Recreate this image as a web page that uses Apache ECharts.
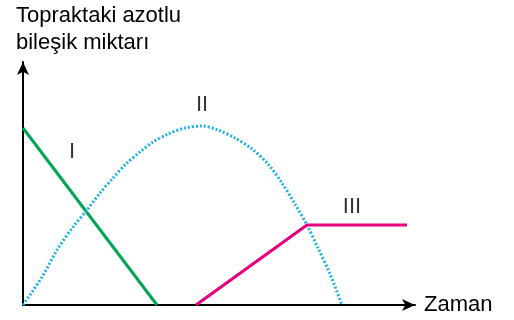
<!DOCTYPE html>
<html>
<head>
<meta charset="utf-8">
<script src="https://cdn.jsdelivr.net/npm/echarts@6/dist/echarts.min.js"></script>
<style>
  html, body { margin: 0; padding: 0; background: #fff; }
  #chart { width: 514px; height: 320px; }
</style>
</head>
<body>
<div id="chart"></div>
<script>
// 数据：x = 时间, y = 氮化合物量
const curveI = [[0, 177], [134, 0]]
const curveII = [
  [0, 0], [19, 28], [34, 55], [50, 78], [64, 95], [77, 112], [90, 127],
  [104, 142], [117, 153], [130, 163], [145, 171], [162, 177], [179, 179],
  [195, 175], [212, 167], [229, 156], [245, 141], [259, 122], [272, 101],
  [284, 80], [295, 57], [307, 31], [319, 0]
]
const curveIII = [[173, 0], [284, 80], [384, 80]]
const curveLabels = [[49, 153, 'I'], [179, 200, 'II'], [329, 98, 'III']]

const yTitle = 'Topraktaki azotlu\nbileşik miktarı'
const xTitle = 'Zaman'

const FONT = 'Liberation Sans, Arial, sans-serif'

const chart = echarts.init(document.getElementById('chart'))

chart.setOption({
  animation: false,
  grid: { left: 23, right: 99, top: 62, bottom: 15 },
  xAxis: {
    type: 'value', min: 0, max: 392,
    name: xTitle, nameLocation: 'end', nameGap: 9,
    nameTextStyle: { color: '#000', fontSize: 22, fontFamily: FONT },
    axisLine: { lineStyle: { color: '#000', width: 2 }, symbol: ['none', 'arrow'], symbolSize: [9, 13] },
    axisTick: { show: false }, axisLabel: { show: false }, splitLine: { show: false }
  },
  yAxis: {
    type: 'value', min: 0, max: 243,
    axisLine: { lineStyle: { color: '#000', width: 2 }, symbol: ['none', 'arrow'], symbolSize: [9, 13] },
    axisTick: { show: false }, axisLabel: { show: false }, splitLine: { show: false }
  },
  graphic: [{
    type: 'text', left: 16, top: 2,
    style: { text: yTitle, font: '22px ' + FONT, lineHeight: 27, fill: '#000' }
  }],
  series: [
    {
      name: 'I', type: 'line', data: curveI, symbol: 'none',
      lineStyle: { color: '#00a651', width: 3 }
    },
    {
      name: 'II', type: 'line', data: curveII, symbol: 'none', smooth: 0.3,
      lineStyle: { color: '#1eaeea', width: 3, type: [2, 2] }
    },
    {
      name: 'III', type: 'line', data: curveIII, symbol: 'none',
      lineStyle: { color: '#e6007e', width: 3 }
    },
    {
      type: 'scatter', data: curveLabels, symbolSize: 0, silent: true,
      label: {
        show: true, position: 'inside', formatter: p => p.data[2],
        color: '#000', fontSize: 22, fontFamily: FONT
      }
    }
  ]
})
</script>
</body>
</html>
